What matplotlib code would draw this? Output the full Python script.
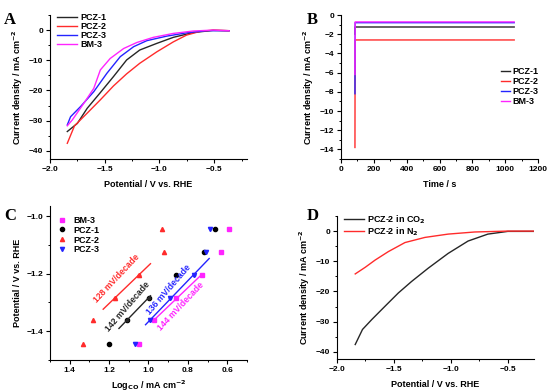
import matplotlib
matplotlib.use("Agg")
import matplotlib.pyplot as plt
import numpy as np
from matplotlib.ticker import AutoMinorLocator, MultipleLocator

plt.rcParams['font.family'] = ['Liberation Sans', 'DejaVu Sans']
plt.rcParams['font.weight'] = 'bold'
plt.rcParams['axes.labelweight'] = 'bold'
plt.rcParams['mathtext.default'] = 'bf'
plt.rcParams['font.size'] = 6

# --- panel A: LSV curves
a_pcz1_v = [-1.842, -1.75, -1.66, -1.54, -1.42, -1.30, -1.18, -1.024, -0.873, -0.69, -0.51, -0.364]
a_pcz1_j = [-33.6, -30.9, -25.9, -20.7, -15.4, -9.9, -6.6, -4.4, -2.4, -0.8, -0.1, -0.2]
a_pcz2_v = [-1.842, -1.776, -1.66, -1.54, -1.42, -1.30, -1.18, -1.024, -0.873, -0.752, -0.63, -0.51, -0.364]
a_pcz2_j = [-37.5, -31.7, -27.5, -23.1, -18.5, -14.5, -11.0, -7.2, -3.9, -1.65, -0.44, 0.0, -0.2]
a_pcz3_v = [-1.842, -1.812, -1.72, -1.60, -1.48, -1.358, -1.236, -1.115, -0.933, -0.752, -0.57, -0.364]
a_pcz3_j = [-31.4, -28.7, -25.3, -20.4, -14.3, -8.8, -5.5, -3.5, -2.0, -0.9, -0.2, -0.2]
a_bm3_v = [-1.842, -1.797, -1.69, -1.60, -1.54, -1.45, -1.327, -1.206, -1.055, -0.873, -0.69, -0.51, -0.364]
a_bm3_j = [-31.7, -29.8, -24.2, -19.3, -13.2, -9.4, -6.1, -4.1, -2.4, -1.1, -0.3, 0.0, -0.2]

# --- panel B: i-t curves
b_time = [85, 86, 1055]
b_pcz1 = [-2.0, -1.25, -1.25]
b_pcz2 = [-13.8, -2.6, -2.6]
b_pcz3 = [-8.2, -0.8, -0.8]
b_bm3 = [-6.2, -0.72, -0.72]

# --- panel C: Tafel points
c_potential = [-1.443, -1.362, -1.284, -1.205, -1.126, -1.046]
c_bm3 = [1.05, 0.97, 0.86, 0.73, 0.63, 0.59]
c_pcz1 = [1.20, 1.11, 1.00, 0.86, 0.72, 0.66]
c_pcz2 = [1.33, 1.28, 1.17, 1.05, 0.92, 0.93]
c_pcz3 = [1.07, 0.99, 0.89, 0.77, 0.71, 0.69]
c_slopes = ['128 mV/decade', '142 mV/decade', '136 mV/decade', '144 mV/decade']

# --- panel D: CO2 vs N2
d_co2_v = [-1.84, -1.776, -1.694, -1.578, -1.461, -1.345, -1.199, -1.024, -0.849, -0.675, -0.5, -0.27]
d_co2_j = [-37.6, -32.6, -29.3, -24.9, -20.5, -16.7, -12.3, -7.4, -3.3, -1.0, -0.1, -0.1]
d_n2_v = [-1.84, -1.752, -1.665, -1.549, -1.403, -1.228, -1.024, -0.791, -0.5, -0.27]
d_n2_j = [-14.2, -12.0, -9.6, -6.8, -3.8, -2.1, -1.0, -0.3, 0.0, 0.0]

BLACK = '#262626'
RED = '#ff2b2b'
BLUE = '#2424ff'
MAG = '#ff24ff'

fig = plt.figure(figsize=(5.5, 3.92), dpi=100)
axA = fig.add_axes([50/550, 1-159/392, 197/550, 144/392])
axB = fig.add_axes([341/550, 1-159/392, 197/550, 144/392])
axC = fig.add_axes([50/550, 1-360/392, 197/550, 154/392])
axD = fig.add_axes([337/550, 1-359/392, 197/550, 143/392])

for ax in (axA, axB, axC, axD):
    ax.spines['top'].set_visible(False)
    ax.spines['right'].set_visible(False)
    ax.tick_params(which='major', length=3, width=0.8, labelsize=6, pad=2)
    ax.tick_params(which='minor', length=1.6, width=0.7)
    ax.xaxis.set_minor_locator(AutoMinorLocator(2))
    ax.yaxis.set_minor_locator(AutoMinorLocator(2))
    for s in ax.spines.values():
        s.set_linewidth(0.8)

lw = 1.0
leg_kw = dict(frameon=False, fontsize=6.5, borderpad=0, borderaxespad=0)

# A
axA.plot(a_pcz1_v, a_pcz1_j, color=BLACK, lw=lw, label='PCZ-1')
axA.plot(a_pcz2_v, a_pcz2_j, color=RED, lw=lw, label='PCZ-2')
axA.plot(a_pcz3_v, a_pcz3_j, color=BLUE, lw=lw, label='PCZ-3')
axA.plot(a_bm3_v, a_bm3_j, color=MAG, lw=lw, label='BM-3')
axA.set_xlim(-2.0, -0.2)
axA.set_ylim(-42.7, 5)
axA.xaxis.set_major_locator(MultipleLocator(0.5))
axA.yaxis.set_major_locator(MultipleLocator(10))
axA.set_xlabel('Potential / V vs. RHE', fontsize=6.5, labelpad=5)
axA.set_ylabel('Current density / mA cm$^{-2}$', fontsize=6.5, labelpad=3)
axA.legend(loc='upper left', bbox_to_anchor=(0.035, 1.011), handlelength=2.2,
           handletextpad=0.35, labelspacing=0.0, **leg_kw)

# B
axB.plot(b_time, b_pcz2, color=RED, lw=lw, label='PCZ-2')
axB.plot(b_time, b_pcz1, color=BLACK, lw=lw, label='PCZ-1')
axB.plot(b_time, b_pcz3, color=BLUE, lw=lw, label='PCZ-3')
axB.plot(b_time, b_bm3, color=MAG, lw=lw, label='BM-3')
axB.set_xlim(0, 1200)
axB.set_ylim(-15, 0)
axB.xaxis.set_major_locator(MultipleLocator(200))
axB.yaxis.set_major_locator(MultipleLocator(2))
axB.set_xlabel('Time / s', fontsize=6.5, labelpad=5)
axB.set_ylabel('Current density / mA cm$^{-2}$', fontsize=6.5, labelpad=3)
h, l = axB.get_legend_handles_labels()
order = [1, 0, 2, 3]
axB.legend([h[i] for i in order], [l[i] for i in order], loc='upper left',
           bbox_to_anchor=(0.81, 0.64), handlelength=1.0, handletextpad=0.3,
           labelspacing=0.12, **leg_kw)

# C
axC.set_xlim(1.5, 0.5)
axC.set_ylim(-1.5, -0.965)
ms = 3
axC.plot(c_bm3, c_potential, 's', color=MAG, ms=ms, ls='none', label='BM-3')
axC.plot(c_pcz1, c_potential, 'o', color='black', ms=ms, ls='none', label='PCZ-1')
axC.plot(c_pcz2, c_potential, '^', color=RED, ms=ms, ls='none', label='PCZ-2')
axC.plot(c_pcz3, c_potential, 'v', color=BLUE, ms=ms, ls='none', label='PCZ-3')

fits = [
    (c_pcz2, slice(2, 4), (1.23, 0.99), RED, c_slopes[0], (1.16, -1.215)),
    (c_pcz1, slice(1, 3), (1.15, 0.99), BLACK, c_slopes[1], (1.105, -1.313)),
    (c_pcz3, slice(1, 4), (1.015, 0.692), BLUE, c_slopes[2], (0.896, -1.255)),
    (c_bm3, slice(1, 4), (0.973, 0.737), MAG, c_slopes[3], (0.835, -1.312)),
]
for xs, sl, rng, col, txt, pos in fits:
    xv = np.array(xs[sl])
    yv = np.array(c_potential[sl])
    k, b = np.polyfit(xv, yv, 1)
    xx = np.array(rng)
    axC.plot(xx, k*xx + b, color=col, lw=1.0)
    axC.plot(xv, yv, 'o', color=col, ms=1.8)
    p1 = axC.transData.transform((xx[0], k*xx[0] + b))
    p2 = axC.transData.transform((xx[1], k*xx[1] + b))
    ang = np.degrees(np.arctan2(p2[1]-p1[1], p2[0]-p1[0]))
    if ang > 90:
        ang -= 180
    elif ang < -90:
        ang += 180
    axC.text(pos[0], pos[1], txt, color=col, fontsize=6.2, rotation=ang + 3,
             rotation_mode='anchor', ha='center', va='center')
axC.xaxis.set_major_locator(MultipleLocator(0.2))
axC.yaxis.set_major_locator(MultipleLocator(0.2))
axC.set_xlabel(r'Log$_{CO}$ / mA cm$^{-2}$', fontsize=6.5, labelpad=3)
axC.set_ylabel('Potential / V vs. RHE', fontsize=6.5, labelpad=3)
axC.legend(loc='upper left', bbox_to_anchor=(0.04, 0.937), handlelength=1.0,
           handletextpad=0.7, labelspacing=0.1, **leg_kw)

# D
axD.plot(d_co2_v, d_co2_j, color=BLACK, lw=lw, label='PCZ-2 in CO$_2$')
axD.plot(d_n2_v, d_n2_j, color=RED, lw=lw, label='PCZ-2 in N$_2$')
axD.set_xlim(-2.0, -0.27)
axD.set_ylim(-42.4, 5)
axD.xaxis.set_major_locator(MultipleLocator(0.5))
axD.yaxis.set_major_locator(MultipleLocator(10))
axD.set_xlabel('Potential / V vs. RHE', fontsize=6.5, labelpad=5)
axD.set_ylabel('Current density / mA cm$^{-2}$', fontsize=6.5, labelpad=3)
axD.legend(loc='upper left', bbox_to_anchor=(0.035, 1.02), handlelength=2.2,
           handletextpad=0.35, labelspacing=0.0, **leg_kw)

for x, y, s in [(4, 12, 'A'), (307, 12, 'B'), (4, 208, 'C'), (307, 208, 'D')]:
    fig.text(x/550, 1-y/392, s, fontsize=12, fontweight='bold',
             family='Liberation Serif', ha='left', va='top')

fig.savefig('out.png', dpi=100)
